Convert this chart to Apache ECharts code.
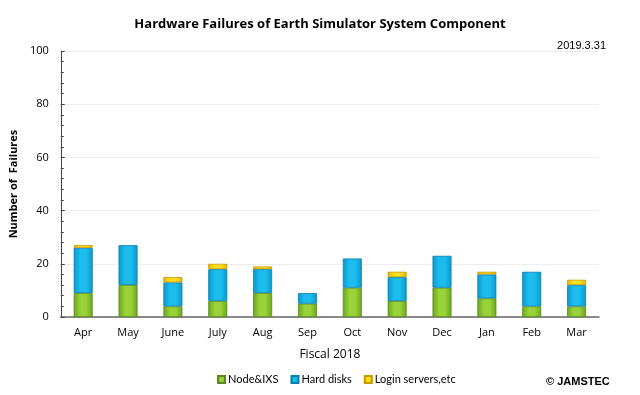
<!DOCTYPE html>
<html><head><meta charset="utf-8">
<script src="https://cdn.jsdelivr.net/npm/echarts@6/dist/echarts.min.js"></script>
<style>html,body{margin:0;padding:0;background:#fff}#c{width:640px;height:395px}</style>
</head><body><div id="c"></div>
<script>
const categories = ['Apr','May','June','July','Aug','Sep','Oct','Nov','Dec','Jan','Feb','Mar'];
const nodeIXS = [9,12,4,6,9,5,11,6,11,7,4,4];
const hardDisks = [17,15,9,12,9,4,11,9,12,9,13,8];
const loginServers = [1,0,2,2,1,0,0,2,0,1,0,2];
const yTicks = [0,20,40,60,80,100];

function grad(edge, mid){
  return new echarts.graphic.LinearGradient(0,0,1,0,[
    {offset:0,color:edge},{offset:0.35,color:mid},{offset:0.65,color:mid},{offset:1,color:edge}]);
}
const nz = a => a.map(v => v === 0 ? '-' : v);
const chart = echarts.init(document.getElementById('c'));
const font = '"Open Sans","Noto Sans",sans-serif';
chart.setOption({
  animation:false,
  title:[
    {text:'Hardware Failures of Earth Simulator System Component',left:'center',top:13,
     textStyle:{fontFamily:font,fontSize:13,fontWeight:'bold',color:'#000'}},
    {text:'2019.3.31',right:29,top:35,textStyle:{fontFamily:'"Liberation Sans",Arial',fontSize:11,fontWeight:'normal',color:'#000'}},
    {text:'© JAMSTEC',left:541,top:371,textStyle:{fontFamily:'"Liberation Sans",Arial',fontSize:11,fontWeight:'bold',color:'#000'}}
  ],
  legend:{data:['Node&IXS','Hard disks','Login servers,etc'],left:212,top:369,itemWidth:7,itemHeight:7,itemGap:12,
    textStyle:{fontFamily:'Lato,"Open Sans",sans-serif',fontSize:11,color:'#000',padding:[0,0,0,-2]},icon:'rect'},
  grid:{left:58,right:41,top:51,bottom:78},
  xAxis:{type:'category',data:categories,name:'Fiscal 2018',nameLocation:'middle',nameGap:32,
    nameTextStyle:{fontFamily:font,fontSize:12,color:'#000'},
    axisLine:{lineStyle:{color:'#666',width:1.5}},axisTick:{show:false},
    axisLabel:{fontFamily:font,fontSize:11,color:'#000',margin:10}},
  yAxis:{type:'value',min:0,max:100,interval:20,name:'Number of  Failures',nameLocation:'middle',nameGap:31,
    nameTextStyle:{fontFamily:font,fontSize:11,fontWeight:'bold',color:'#000'},
    axisLine:{show:true,lineStyle:{color:'#444'}},axisTick:{show:true,inside:true,length:4,lineStyle:{color:'#444'}},
    minorTick:{show:true,splitNumber:5,length:3,lineStyle:{color:'#444'}},
    axisLabel:{fontFamily:font,fontSize:11,color:'#000',margin:12,formatter:v=>yTicks.includes(v)?String(v):''},
    splitLine:{show:true,lineStyle:{color:'#ddd',type:'dotted',width:1.2}}},
  series:[
    {name:'Node&IXS',type:'bar',stack:'a',barWidth:19,data:nz(nodeIXS),
     itemStyle:{color:grad('#6aa51d','#9ad23a'),borderColor:'#5a8a1a',borderWidth:0.8}},
    {name:'Hard disks',type:'bar',stack:'a',barWidth:19,data:nz(hardDisks),
     itemStyle:{color:grad('#0a98cc','#1cbdee'),borderColor:'#0a7fae',borderWidth:0.8}},
    {name:'Login servers,etc',type:'bar',stack:'a',barWidth:19,data:nz(loginServers),
     itemStyle:{color:grad('#e0b300','#ffe020'),borderColor:'#c99a00',borderWidth:0.8}}
  ]
});
</script></body></html>
